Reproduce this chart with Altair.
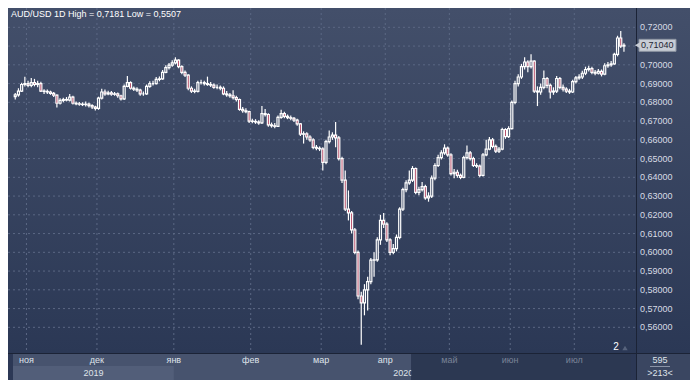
import altair as alt
import pandas as pd

# AUD/USD daily candles, prices in pips (1/10000)
opens = [6830, 6840, 6860, 6895, 6900, 6890, 6905, 6895, 6900, 6860,
         6858, 6855, 6848, 6838, 6795, 6810, 6815, 6812, 6828, 6795,
         6792, 6790, 6788, 6790, 6782, 6775, 6768, 6822, 6855, 6845,
         6850, 6843, 6845, 6835, 6818, 6885, 6905, 6875, 6870, 6865,
         6845, 6845, 6885, 6900, 6900, 6922, 6925, 6960, 6985, 6998,
         7010, 7025, 6990, 6960, 6945, 6875, 6860, 6858, 6905, 6905,
         6900, 6895, 6892, 6880, 6880, 6875, 6845, 6840, 6835, 6825,
         6815, 6762, 6755, 6750, 6700, 6698, 6695, 6690, 6740, 6735,
         6680, 6675, 6672, 6720, 6740, 6725, 6718, 6715, 6705, 6685,
         6630, 6632, 6615, 6600, 6560, 6555, 6552, 6480, 6590, 6615,
         6625, 6610, 6500, 6385, 6230, 6210, 6120, 6000, 5767, 5730,
         5800, 5844, 5958, 5960, 6066, 6170, 6150, 6066, 6000, 6020,
         6080, 6230, 6334, 6370, 6385, 6447, 6320, 6334, 6350, 6290,
         6300, 6396, 6463, 6505, 6530, 6556, 6520, 6420, 6427, 6410,
         6400, 6505, 6530, 6500, 6463, 6460, 6410, 6520, 6550, 6600,
         6565, 6540, 6550, 6655, 6617, 6660, 6800, 6900, 6935, 6990,
         7015, 6990, 7020, 6860, 6855, 6880, 6927, 6890, 6855, 6860,
         6927, 6880, 6870, 6860, 6855, 6910, 6930, 6935, 6955, 6975,
         6980, 6960, 6955, 6965, 6950, 6995, 7000, 7005, 7056, 7143,
         7100]
highs = [6850, 6875, 6905, 6937, 6915, 6930, 6925, 6915, 6910, 6870,
         6868, 6862, 6855, 6842, 6822, 6825, 6828, 6845, 6835, 6805,
         6802, 6800, 6805, 6798, 6790, 6782, 6830, 6872, 6868, 6862,
         6860, 6855, 6852, 6840, 6895, 6940, 6912, 6885, 6880, 6872,
         6858, 6895, 6912, 6915, 6935, 6938, 6972, 6998, 7010, 7025,
         7040, 7030, 6998, 6970, 6950, 6885, 6872, 6915, 6920, 6915,
         6937, 6908, 6900, 6895, 6890, 6885, 6860, 6850, 6865, 6835,
         6820, 6775, 6768, 6755, 6712, 6710, 6705, 6780, 6765, 6742,
         6692, 6690, 6730, 6760, 6750, 6735, 6730, 6722, 6712, 6690,
         6645, 6640, 6625, 6608, 6572, 6565, 6560, 6600, 6650, 6640,
         6695, 6620, 6510, 6437, 6330, 6220, 6130, 6010, 5790, 5830,
         5870, 5970, 6000, 6080, 6200, 6210, 6160, 6075, 6045, 6095,
         6240, 6345, 6385, 6437, 6460, 6452, 6350, 6375, 6360, 6320,
         6410, 6475, 6520, 6545, 6576, 6565, 6528, 6445, 6440, 6420,
         6515, 6570, 6540, 6510, 6475, 6468, 6530, 6600, 6615, 6610,
         6575, 6562, 6665, 6662, 6672, 6810, 6915, 6950, 7005, 7040,
         7025, 7056, 7025, 6885, 6900, 6970, 6935, 6900, 6880, 6940,
         6935, 6895, 6880, 6872, 6920, 6940, 6950, 6968, 6990, 6995,
         6990, 6972, 6978, 6975, 7008, 7015, 7020, 7065, 7155, 7181,
         7115]
lows = [6815, 6830, 6855, 6885, 6880, 6880, 6885, 6880, 6855, 6845,
        6845, 6840, 6828, 6772, 6788, 6800, 6805, 6805, 6788, 6785,
        6782, 6780, 6778, 6772, 6765, 6757, 6760, 6815, 6835, 6838,
        6835, 6835, 6825, 6810, 6812, 6880, 6868, 6860, 6855, 6835,
        6835, 6840, 6878, 6890, 6895, 6912, 6920, 6955, 6975, 6990,
        7002, 6982, 6950, 6935, 6865, 6850, 6848, 6852, 6895, 6890,
        6888, 6882, 6872, 6870, 6865, 6838, 6830, 6825, 6815, 6805,
        6755, 6745, 6742, 6690, 6688, 6685, 6680, 6685, 6725, 6670,
        6665, 6662, 6668, 6712, 6715, 6710, 6705, 6695, 6675, 6620,
        6580, 6600, 6590, 6550, 6545, 6540, 6437, 6470, 6580, 6600,
        6560, 6490, 6370, 6220, 6170, 6100, 5990, 5750, 5507, 5664,
        5690, 5830, 5870, 5950, 6040, 6130, 6055, 5985, 5990, 6005,
        6070, 6220, 6320, 6360, 6375, 6310, 6305, 6325, 6280, 6270,
        6290, 6385, 6455, 6495, 6520, 6510, 6410, 6395, 6398, 6390,
        6395, 6495, 6490, 6455, 6450, 6400, 6405, 6512, 6545, 6555,
        6530, 6530, 6545, 6605, 6610, 6655, 6790, 6885, 6925, 6975,
        6960, 6980, 6850, 6780, 6840, 6870, 6875, 6820, 6840, 6850,
        6870, 6858, 6850, 6845, 6850, 6900, 6920, 6925, 6945, 6965,
        6950, 6945, 6948, 6938, 6945, 6985, 6990, 7000, 7045, 7090,
        7070]
closes = [6840, 6860, 6895, 6900, 6890, 6905, 6895, 6900, 6860, 6858,
          6855, 6848, 6838, 6795, 6810, 6815, 6812, 6828, 6795, 6792,
          6790, 6788, 6790, 6782, 6775, 6768, 6822, 6855, 6845, 6850,
          6843, 6845, 6835, 6818, 6885, 6905, 6875, 6870, 6865, 6845,
          6845, 6885, 6900, 6900, 6922, 6925, 6960, 6985, 6998, 7010,
          7025, 6990, 6960, 6945, 6875, 6860, 6858, 6905, 6905, 6900,
          6895, 6892, 6880, 6880, 6875, 6845, 6840, 6835, 6825, 6815,
          6762, 6755, 6750, 6700, 6698, 6695, 6690, 6740, 6735, 6680,
          6675, 6672, 6720, 6740, 6725, 6718, 6715, 6705, 6685, 6630,
          6632, 6615, 6600, 6560, 6555, 6552, 6480, 6590, 6615, 6625,
          6610, 6500, 6385, 6230, 6210, 6120, 6000, 5767, 5730, 5800,
          5844, 5958, 5960, 6066, 6170, 6150, 6066, 6000, 6020, 6080,
          6230, 6334, 6370, 6385, 6447, 6320, 6334, 6350, 6290, 6300,
          6396, 6463, 6505, 6530, 6556, 6520, 6420, 6427, 6410, 6400,
          6505, 6530, 6500, 6463, 6460, 6410, 6520, 6550, 6600, 6565,
          6540, 6550, 6655, 6617, 6660, 6800, 6900, 6935, 6990, 7015,
          6990, 7020, 6860, 6855, 6880, 6927, 6890, 6855, 6860, 6927,
          6880, 6870, 6860, 6855, 6910, 6930, 6935, 6955, 6975, 6980,
          6960, 6955, 6965, 6950, 6995, 7000, 7005, 7056, 7143, 7100,
          7104]

month_names = ["ноя", "дек", "янв", "фев", "мар", "апр", "май", "июн", "июл"]
month_start = [4, 26, 50, 74, 96, 116, 136, 155, 175]   # candle index of 1st day
year_labels = ["2019", "2020"]
price_ticks = [0.56, 0.57, 0.58, 0.59, 0.60, 0.61, 0.62, 0.63, 0.64,
               0.65, 0.66, 0.67, 0.68, 0.69, 0.70, 0.71, 0.72]
scroll_start = 123.6          # where the darker part of the time bar begins
bar_info = ["595", ">213<"]
FONT = "Liberation Sans"
FS = 9

PLOT_W, PLOT_H = 628, 345
AXIS_W, BOTTOM_H = 54, 27
TOTAL_W = PLOT_W + AXIS_W
X_DOM = [-0.7, 192.2]
Y_DOM = [0.5463, 0.7303]

assert len(opens) == len(highs) == len(lows) == len(closes)

df = pd.DataFrame({
    "i": list(range(len(closes))),
    "open": [v / 1e4 for v in opens],
    "high": [v / 1e4 for v in highs],
    "low": [v / 1e4 for v in lows],
    "close": [v / 1e4 for v in closes],
})
df["top"] = df[["open", "close"]].max(axis=1)
df["bot"] = df[["open", "close"]].min(axis=1)
df["down"] = df["close"] < df["open"]

xs = alt.Scale(domain=X_DOM, nice=False, zero=False)
ys = alt.Scale(domain=Y_DOM, nice=False, zero=False)
one = pd.DataFrame({"a": [0]})


def fmt(v, d):
    return f"{v:.{d}f}".replace(".", ",")


title = f"AUD/USD 1D High = {fmt(max(highs) / 1e4, 4)} Low = {fmt(min(lows) / 1e4, 4)}"
last_price = closes[-1] / 1e4

months = pd.DataFrame({"name": month_names, "start": month_start})
months["grid"] = months["start"] - 0.5
jan_grid = float(months["grid"][2])

bg = alt.Chart(one).mark_rect(
    fill=alt.Gradient(
        gradient="linear",
        stops=[alt.GradientStop(color="#434f6a", offset=0),
               alt.GradientStop(color="#2b3855", offset=1)],
        x1=0, x2=0, y1=0, y2=1)
).encode(x=alt.value(0), x2=alt.value(TOTAL_W), y=alt.value(0), y2=alt.value(PLOT_H))

bands = pd.DataFrame({
    "x0": [X_DOM[0], X_DOM[0]],
    "x1": [scroll_start, jan_grid],
    "y0": [PLOT_H, PLOT_H + 13],
    "c": ["#47536e", "#525e79"],
})
light = alt.Chart(bands).mark_rect().encode(
    x=alt.X("x0:Q", scale=xs, axis=None), x2="x1:Q",
    y=alt.Y("y0:Q", scale=None, axis=None), y2=alt.value(PLOT_H + BOTTOM_H),
    fill=alt.Fill("c:N", scale=None, legend=None))

years = pd.DataFrame({"t": year_labels, "x": [(X_DOM[0] + jan_grid) / 2, scroll_start]})
year2019 = alt.Chart(years.iloc[:1]).mark_text(
    font=FONT, fontSize=FS, color="#dfe3ea", align="center", baseline="middle"
).encode(x=alt.X("x:Q", scale=xs, axis=None), y=alt.value(PLOT_H + 20), text="t:N")
year2020 = alt.Chart(years.iloc[1:]).mark_text(
    font=FONT, fontSize=FS, color="#dfe3ea", align="right", baseline="middle", dx=2
).encode(x=alt.X("x:Q", scale=xs, axis=None), y=alt.value(PLOT_H + 20), text="t:N")

dark = alt.Chart(pd.DataFrame({"x0": [scroll_start], "x1": [X_DOM[1]]})).mark_rect(
    fill="#2c3852").encode(
    x=alt.X("x0:Q", scale=xs, axis=None), x2="x1:Q",
    y=alt.value(PLOT_H), y2=alt.value(PLOT_H + BOTTOM_H))

infobox = alt.Chart(one).mark_rect(fill="#3a4661").encode(
    x=alt.value(PLOT_W), x2=alt.value(TOTAL_W),
    y=alt.value(PLOT_H), y2=alt.value(PLOT_H + BOTTOM_H))

vgrid = alt.Chart(months).mark_rule(color="#5b6884", strokeDash=[2, 3], strokeWidth=1).encode(
    x=alt.X("grid:Q", scale=xs, axis=None), y=alt.value(0), y2=alt.value(PLOT_H))
ticks_df = pd.DataFrame({"p": price_ticks})
hgrid = alt.Chart(ticks_df).mark_rule(color="#5b6884", strokeDash=[2, 3], strokeWidth=1).encode(
    y=alt.Y("p:Q", scale=ys, axis=None), x=alt.value(0), x2=alt.value(PLOT_W))

base = alt.Chart(df)
wick_up = base.mark_rule(color="white", strokeWidth=1.2).encode(
    x=alt.X("i:Q", scale=xs, axis=None), y=alt.Y("high:Q", scale=ys, axis=None), y2="top:Q")
wick_dn = base.mark_rule(color="white", strokeWidth=1.2).encode(
    x=alt.X("i:Q", scale=xs, axis=None), y=alt.Y("bot:Q", scale=ys, axis=None), y2="low:Q")
bodies = base.mark_bar(size=2, stroke="white", strokeWidth=1.2).encode(
    x=alt.X("i:Q", scale=xs, axis=None),
    y=alt.Y("bot:Q", scale=ys, axis=None), y2="top:Q",
    fill=alt.condition("datum.down", alt.value("#a8284a"), alt.value("transparent")))

sep_v = alt.Chart(one).mark_rule(color="#1b2336", strokeWidth=1).encode(
    x=alt.value(PLOT_W + 0.5), y=alt.value(0), y2=alt.value(PLOT_H + BOTTOM_H))
sep_h = alt.Chart(one).mark_rule(color="#1b2336", strokeWidth=1).encode(
    x=alt.value(0), x2=alt.value(TOTAL_W), y=alt.value(PLOT_H + 0.5))

price_labels = alt.Chart(ticks_df).transform_calculate(
    label="replace(format(datum.p, '.5f'), '.', ',')"
).mark_text(font=FONT, fontSize=FS, color="#d8dce5", align="left", baseline="middle").encode(
    y=alt.Y("p:Q", scale=ys, axis=None), x=alt.value(PLOT_W + 4), text="label:N")

month_labels = alt.Chart(months).mark_text(
    font=FONT, fontSize=FS, align="center", baseline="middle").encode(
    x=alt.X("grid:Q", scale=xs, axis=None), y=alt.value(PLOT_H + 7), text="name:N",
    color=alt.condition(f"datum.grid > {scroll_start}", alt.value("#7a8397"), alt.value("#dfe3ea")))

title_txt = alt.Chart(pd.DataFrame({"t": [title]})).mark_text(
    font=FONT, fontSize=FS, color="#ffffff", align="left", baseline="middle").encode(
    x=alt.value(3), y=alt.value(6), text="t:N")

info_df = pd.DataFrame({"t": bar_info, "y": [PLOT_H + 7, PLOT_H + 20]})
info_txt = alt.Chart(info_df).mark_text(
    font=FONT, fontSize=FS, color="#dfe3ea", align="center", baseline="middle").encode(
    x=alt.value(PLOT_W + 24), y=alt.Y("y:Q", scale=None, axis=None), text="t:N")
info_line = alt.Chart(one).mark_rule(color="#8a93a6").encode(
    x=alt.value(PLOT_W + 14), x2=alt.value(PLOT_W + 34), y=alt.value(PLOT_H + 13.5))

marker_txt = alt.Chart(pd.DataFrame({"t": ["2"]})).mark_text(
    font=FONT, fontSize=10, color="#ffffff", align="center", baseline="middle").encode(
    x=alt.value(608), y=alt.value(PLOT_H - 6), text="t:N")
marker_tri = alt.Chart(one).mark_point(shape="triangle-up", filled=True, color="#56627c",
                                       size=28, opacity=1).encode(
    x=alt.value(617), y=alt.value(PLOT_H - 5))

last_df = pd.DataFrame({"p": [last_price], "t": [fmt(last_price, 5)]})
last_box = alt.Chart(last_df).mark_rect(fill="#c7ccd5", stroke="#8f96a3", strokeWidth=1,
                                        yOffset=-6, y2Offset=6).encode(
    x=alt.value(PLOT_W + 3), x2=alt.value(PLOT_W + 40),
    y=alt.Y("p:Q", scale=ys, axis=None), y2="p:Q")
last_arrow = alt.Chart(last_df).mark_point(shape="triangle-left", filled=True, color="#c7ccd5",
                                           size=36, opacity=1).encode(
    x=alt.value(PLOT_W + 1.5), y=alt.Y("p:Q", scale=ys, axis=None))
last_txt = alt.Chart(last_df).mark_text(font=FONT, fontSize=FS, color="#1f2533",
                                        align="left", baseline="middle").encode(
    x=alt.value(PLOT_W + 5), y=alt.Y("p:Q", scale=ys, axis=None), text="t:N")

chart = alt.layer(
    bg, light, year2019, year2020, dark, infobox,
    vgrid, hgrid, wick_up, wick_dn, bodies,
    sep_v, sep_h, price_labels, month_labels, title_txt,
    info_txt, info_line, marker_txt, marker_tri,
    last_box, last_arrow, last_txt,
).properties(
    width=PLOT_W, height=PLOT_H,
    autosize=alt.AutoSizeParams(type="none"),
    padding={"left": 0, "top": 0, "right": AXIS_W, "bottom": BOTTOM_H},
    background="#2c3855",
).configure_view(stroke=None)

chart.save("out.html", embed_options={"renderer": "svg", "actions": False})
